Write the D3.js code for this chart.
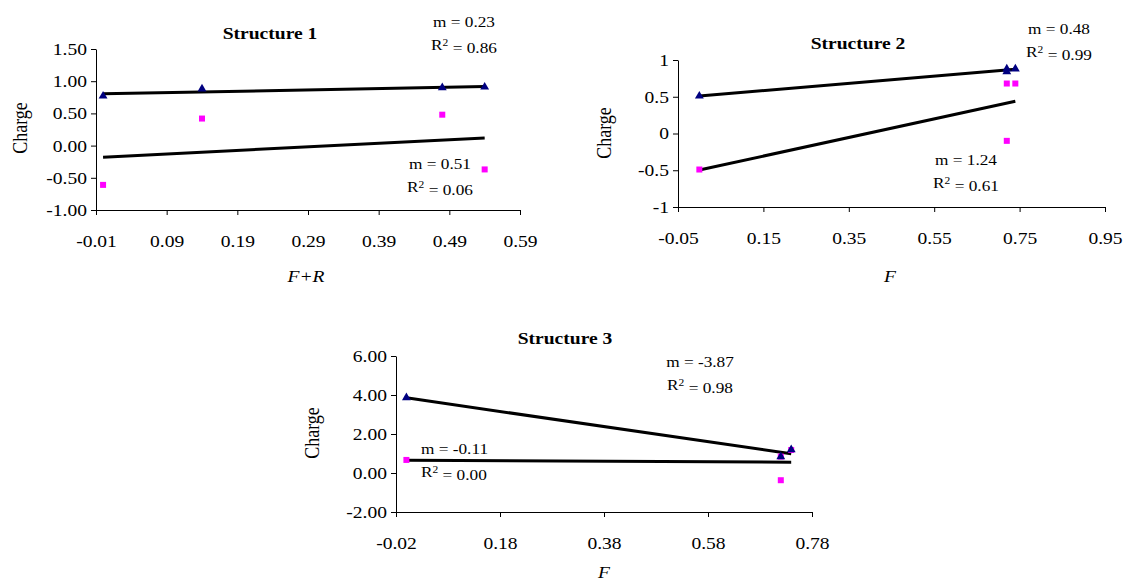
<!DOCTYPE html>
<html>
<head>
<meta charset="utf-8">
<script src="https://cdnjs.cloudflare.com/ajax/libs/d3/7.8.5/d3.min.js"></script>
<style>
  body { margin: 0; background: #fff; }
  svg text { font-family: "Liberation Serif", "Times New Roman", serif; fill: #000; }
  .axis path, .axis line { stroke: #000; stroke-width: 1; }
</style>
</head>
<body>
<svg id="chart" width="1125" height="586"></svg>
<script>
// ---- data ----
var titles = ['Structure 1', 'Structure 2', 'Structure 3'];
var xTitles = ['F+R', 'F', 'F'];

var xTicks1 = [-0.01, 0.09, 0.19, 0.29, 0.39, 0.49, 0.59];
var yTicks1 = [-1.0, -0.5, 0.0, 0.5, 1.0, 1.5];
var xTicks2 = [-0.05, 0.15, 0.35, 0.55, 0.75, 0.95];
var yTicks2 = [-1, -0.5, 0, 0.5, 1];
var xTicks3 = [-0.02, 0.18, 0.38, 0.58, 0.78];
var yTicks3 = [-2, 0, 2, 4, 6];

// triangles (navy) and squares (magenta)
var triF1 = [0.00, 0.14, 0.48, 0.54];
var triQ1 = [0.77, 0.88, 0.90, 0.91];
var sqF1  = [0.00, 0.14, 0.48, 0.54];
var sqQ1  = [-0.61, 0.42, 0.48, -0.37];

var triF2 = [0.00, 0.72, 0.72, 0.74];
var triQ2 = [0.51, 0.84, 0.88, 0.88];
var sqF2  = [0.00, 0.72, 0.72, 0.74];
var sqQ2  = [-0.49, 0.68, -0.10, 0.68];

var triF3 = [0.00, 0.72, 0.74];
var triQ3 = [3.86, 0.84, 1.20];
var sqF3  = [0.00, 0.72, 0.72, 0.74];
var sqQ3  = [0.67, 0.84, -0.37, 1.18];

var triNotes = [['m = 0.23', '0.86'], ['m = 0.48', '0.99'], ['m = -3.87', '0.98']];
var sqNotes  = [['m = 0.51', '0.06'], ['m = 1.24', '0.61'], ['m = -0.11', '0.00']];

// ---- layout ----
var S = 1.15; // the picture's text is a bit wider than the font

var panels = [
  { x0: 96, x1: 520, y0: 49, y1: 210, xTicks: xTicks1, yTicks: yTicks1, fmtX: 2, fmtY: 2,
    tri: [triF1, triQ1], sq: [sqF1, sqQ1],
    title: [270, 33], xt: [306, 276], yt: [20, 128],
    triNote: [464, 22, 'middle'], sqNote: [440, 164, 'middle'] },
  { x0: 678, x1: 1105, y0: 60, y1: 207, xTicks: xTicks2, yTicks: yTicks2, fmtX: 2, fmtY: -1,
    tri: [triF2, triQ2], sq: [sqF2, sqQ2],
    title: [858, 43], xt: [890, 276], yt: [604, 133],
    triNote: [1059, 29, 'middle'], sqNote: [966, 160, 'middle'] },
  { x0: 396, x1: 812, y0: 356, y1: 512, xTicks: xTicks3, yTicks: yTicks3, fmtX: 2, fmtY: 2,
    tri: [triF3, triQ3], sq: [sqF3, sqQ3],
    title: [565, 338], xt: [604, 572], yt: [312, 433],
    triNote: [700, 362, 'middle'], sqNote: [421, 449, 'start'] }
];

var svg = d3.select('#chart');

function fit(xs, ys) {
    var mx = d3.mean(xs), my = d3.mean(ys);
    var sxy = d3.sum(xs, function(x, i) { return (x - mx) * (ys[i] - my); });
    var sxx = d3.sum(xs, function(x) { return (x - mx) * (x - mx); });
    var m = sxy / sxx;
    return function(x) { return my + m * (x - mx); };
}

function fmt(d, n) {
    return n < 0 ? String(d) : d.toFixed(n);
}

// text placed at (x, y) and widened by S
function label(g, x, y, size, extra) {
    return g.append('text')
        .attr('transform', 'translate(' + x + ',' + y + ') scale(' + S + ',1)' + (extra || ''))
        .attr('dy', '0.35em')
        .style('font-size', size + 'px');
}

function note(g, pos, lines) {
    label(g, pos[0], pos[1], 15)
        .attr('text-anchor', pos[2])
        .text(lines[0]);
    var t2 = label(g, pos[0], pos[1] + 23, 15)
        .attr('text-anchor', pos[2]);
    t2.append('tspan').text('R');
    t2.append('tspan').attr('dy', '-0.45em').style('font-size', '10px').text('2');
    t2.append('tspan').attr('dy', '0.45em').text(' = ' + lines[1]);
}

panels.forEach(function(p, k) {
    var g = svg.append('g');

    var x = d3.scaleLinear()
        .domain([p.xTicks[0], p.xTicks[p.xTicks.length - 1]])
        .range([p.x0, p.x1]);
    var y = d3.scaleLinear()
        .domain([p.yTicks[0], p.yTicks[p.yTicks.length - 1]])
        .range([p.y1, p.y0]);

    g.append('g')
        .attr('class', 'axis')
        .attr('transform', 'translate(0,' + p.y1 + ')')
        .call(d3.axisBottom(x).tickValues(p.xTicks).tickSize(5).tickSizeOuter(0)
            .tickFormat(function(d) { return fmt(d, p.fmtX); }))
        .selectAll('text')
        .attr('y', 25)
        .attr('transform', 'scale(' + S + ',1)')
        .style('font-size', '17px');

    g.append('g')
        .attr('class', 'axis')
        .attr('transform', 'translate(' + p.x0 + ',0)')
        .call(d3.axisLeft(y).tickValues(p.yTicks).tickSize(5).tickSizeOuter(0)
            .tickFormat(function(d) { return fmt(d, p.fmtY); }))
        .selectAll('text')
        .attr('x', -9 / S)
        .attr('transform', 'scale(' + S + ',1)')
        .style('font-size', '17px');

    // trend lines
    [p.tri, p.sq].forEach(function(s) {
        var f = fit(s[0], s[1]);
        var ext = d3.extent(s[0]);
        g.append('line')
            .attr('x1', x(ext[0])).attr('y1', y(f(ext[0])))
            .attr('x2', x(ext[1])).attr('y2', y(f(ext[1])))
            .attr('stroke', '#000')
            .attr('stroke-width', 3);
    });

    // squares
    g.selectAll('.sq')
        .data(p.sq[0].map(function(f, i) { return [f, p.sq[1][i]]; }))
        .enter()
        .append('rect')
        .attr('class', 'sq')
        .attr('x', function(d) { return x(d[0]) - 3; })
        .attr('y', function(d) { return y(d[1]) - 3; })
        .attr('width', 6)
        .attr('height', 6)
        .attr('fill', '#ff00ff');

    // triangles
    g.selectAll('.tri')
        .data(p.tri[0].map(function(f, i) { return [f, p.tri[1][i]]; }))
        .enter()
        .append('path')
        .attr('class', 'tri')
        .attr('d', d3.symbol().type(d3.symbolTriangle).size(34))
        .attr('transform', function(d) { return 'translate(' + x(d[0]) + ',' + y(d[1]) + ')'; })
        .attr('fill', '#000080');

    label(g, p.title[0], p.title[1], 17)
        .attr('text-anchor', 'middle')
        .style('font-weight', 'bold')
        .text(titles[k]);

    label(g, p.xt[0], p.xt[1], 17)
        .attr('text-anchor', 'middle')
        .style('font-style', 'italic')
        .text(xTitles[k]);

    label(g, p.yt[0], p.yt[1], 18, ' rotate(-90)')
        .attr('text-anchor', 'middle')
        .text('Charge');

    note(g, p.triNote, triNotes[k]);
    note(g, p.sqNote, sqNotes[k]);
});
</script>
</body>
</html>
